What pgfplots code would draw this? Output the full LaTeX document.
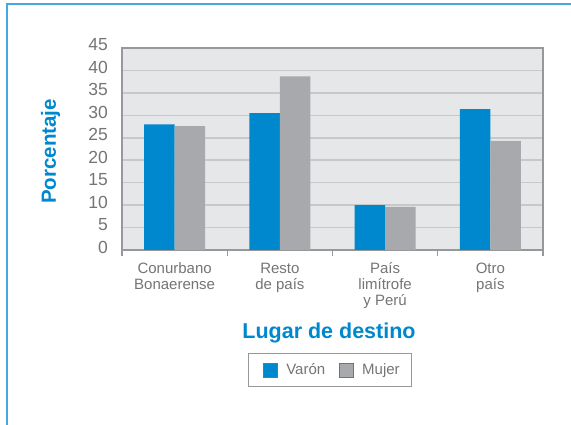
\documentclass[border=0pt]{standalone}
\usepackage{pgfplots}
\pgfplotsset{compat=1.18}
\usepackage{fontspec}
\setmainfont{Liberation Sans}
\definecolor{varon}{RGB}{0,136,206}
\definecolor{mujer}{RGB}{167,169,172}
\definecolor{plotbg}{RGB}{230,231,232}
\definecolor{gridc}{RGB}{199,200,202}
\definecolor{axc}{RGB}{150,152,155}
\definecolor{txt}{RGB}{115,117,120}
\definecolor{frame}{RGB}{64,170,225}
\definecolor{ttl}{RGB}{0,136,206}
\newcommand{\fs}{\rule{0pt}{14pt}}
\begin{document}
\begin{tikzpicture}
\useasboundingbox (0,0) rectangle (571pt,425pt);
\fill[white] (0,0) rectangle (571pt,425pt);
\draw[line width=2pt, color=frame] (6.5pt,0) -- (6.5pt,420.5pt) -- (571pt,420.5pt);
\begin{axis}[
  at={(122pt,175pt)}, anchor=south west,
  scale only axis, width=421pt, height=202pt,
  /pgf/number format/assume math mode=true,
  axis background/.style={fill=plotbg},
  axis line style={draw=axc, line width=1.2pt},
  ybar=0pt, bar width=30.5pt,
  xmin=-0.5, xmax=3.5, ymin=0, ymax=45,
  ytick={0,5,...,45},
  ymajorgrids, grid style={draw=gridc, line width=1.6pt},
  ytick style={draw=none},
  yticklabel style={font=\fontsize{17.5}{17.5}\selectfont, color=txt, anchor=east, inner sep=0pt, xshift=-8pt, yshift=3pt},
  xtick={-0.5,0.5,1.5,2.5,3.5},
  xticklabels={},
  xtick style={draw=axc, line width=1.2pt},
  tick pos=left,
  tick align=outside,
  major tick length=6pt,
  extra x ticks={0,1,2,3},
  extra x tick labels={\fs Conurbano\\Bonaerense, \fs Resto\\de país, \fs País\\limítrofe\\y Perú, \fs Otro\\país},
  extra x tick style={major tick length=0pt, grid=none,
    xticklabel style={font=\fontsize{15}{16}\selectfont, color=txt, align=center, anchor=north, inner sep=0pt, yshift=-9.3pt}},
  xlabel={Lugar de destino},
  xlabel style={font=\fontsize{21.5}{22}\selectfont\bfseries, color=ttl, at={(axis description cs:0.5,0)}, anchor=base, inner sep=0pt, yshift=-89pt, xshift=-3.5pt},
  ylabel={Porcentaje},
  ylabel style={font=\fontsize{20.5}{22}\selectfont\bfseries, color=ttl, at={(axis description cs:0,0.5)}, anchor=base, inner sep=0pt, yshift=66pt, xshift=-2.5pt},
  legend columns=2,
  legend style={at={(axis description cs:0.5,0)}, anchor=center, yshift=-120pt, xshift=-2.5pt,
    draw=axc, line width=1.2pt, font=\fontsize{15}{16}\selectfont, text=txt,
    inner xsep=10pt, inner ysep=8.5pt,
    /tikz/every even column/.append style={column sep=7pt}},
  legend image code/.code={\path (-5pt,0) (21pt,0); \draw[#1, draw=black!55, line width=0.5pt] (0pt,-7pt) rectangle (14pt,7pt);},
]
\addplot[fill=varon, draw=none] coordinates {(0,28.0) (1,30.5) (2,10.0) (3,31.4)};
\addplot[fill=mujer, draw=none] coordinates {(0,27.6) (1,38.7) (2,9.6) (3,24.3)};
\legend{Varón, Mujer}
\end{axis}
\end{tikzpicture}
\end{document}
